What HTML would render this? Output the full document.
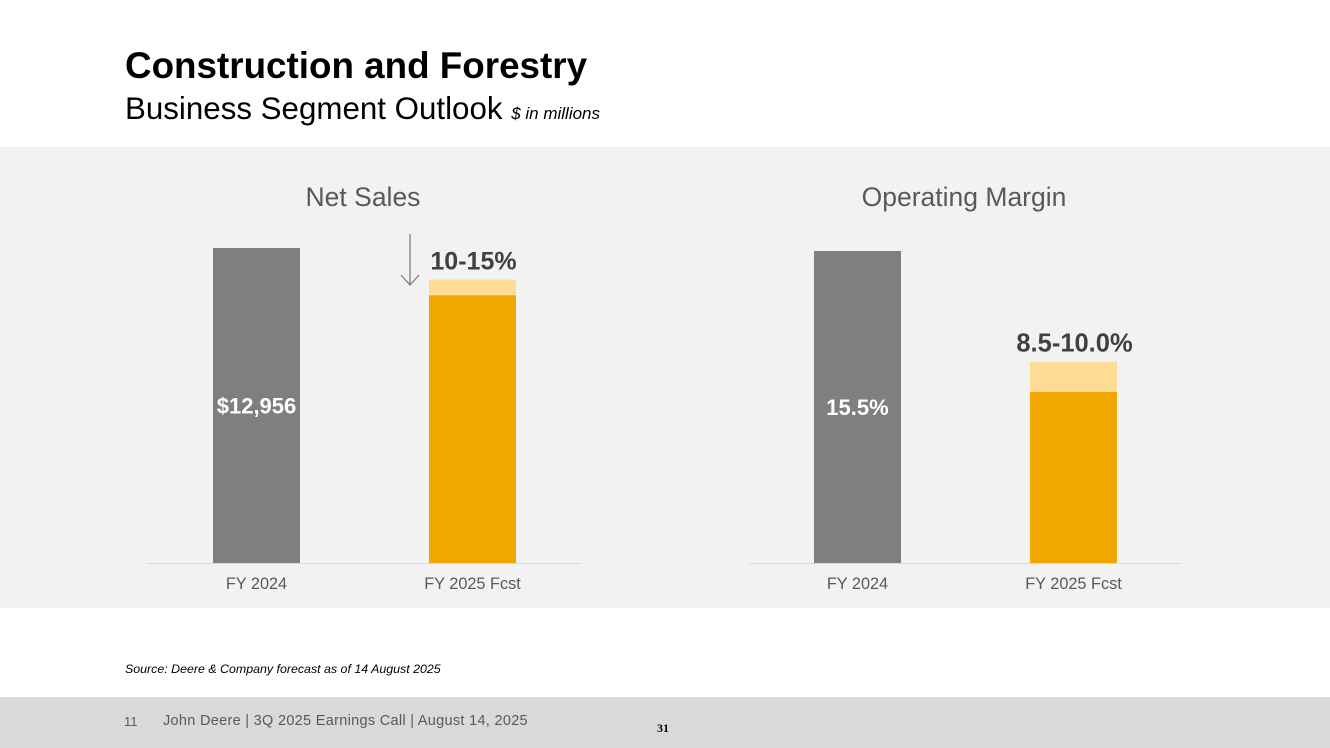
<!DOCTYPE html>
<html><head><meta charset="utf-8"><style>
body{margin:0;width:1330px;height:748px;position:relative;background:#fff;font-family:"Liberation Sans",Arial,sans-serif;overflow:hidden}
.abs{position:absolute}
</style></head><body>
<div class="abs" style="left:125px;top:45px;font-size:36.8px;font-weight:bold;color:#000">Construction and Forestry</div>
<div class="abs" style="left:125px;top:91px;font-size:31.3px;color:#000">Business Segment Outlook <span style="font-size:17px;font-style:italic">$ in millions</span></div>
<div class="abs" style="left:0;top:147px;width:1330px;height:461px;background:#f2f2f2"></div>
<svg class="abs" style="left:0;top:0" width="1330" height="748" id="svg"></svg>
<div class="abs" style="left:125px;top:662px;font-size:12.4px;font-style:italic;color:#000">Source: Deere &amp; Company forecast as of 14 August 2025</div>
<div class="abs" style="left:0;top:697px;width:1330px;height:51px;background:#d9d9d9"></div>
<div class="abs" style="left:124px;top:714px;font-size:13px;color:#595959">11</div>
<div class="abs" style="left:163px;top:713px;font-size:14.5px;color:#595959;letter-spacing:0.3px;white-space:nowrap">John Deere | 3Q 2025 Earnings Call | August 14, 2025</div>
<div class="abs" style="left:657px;top:721px;font-size:12px;font-weight:bold;font-family:'Liberation Serif',serif">31</div>
<script>
const categories=["FY 2024","FY 2025 Fcst"];
const salesBase=[12956,11013];
const salesHigh=[12956,11660];
const marginBase=[15.5,8.5];
const marginHigh=[15.5,10.0];
const salesLabels=["$12,956","10-15%"];
const marginLabels=["15.5%","8.5-10.0%"];
const NS="http://www.w3.org/2000/svg";
const svg=document.getElementById('svg');
function mk(t,a,txt){const e=document.createElementNS(NS,t);for(const k in a)e.setAttribute(k,a[k]);if(txt!=null)e.textContent=txt;svg.appendChild(e);return e;}
function chart(x0,title,base,high,labels,maxV,h,fs,name){
  const baseY=563;
  const y=v=>baseY-v/maxV*h;
  const t=mk('text',{x:x0+215,y:206,'text-anchor':'middle','font-size':26.5,fill:'#595959'},title);
  
  const ax=mk('line',{x1:x0,x2:x0+433,y1:baseY+0.5,y2:baseY+0.5,stroke:'#d9d9d9','stroke-width':1});
  
  categories.forEach((c,i)=>{
    const bx=x0+65+i*216,bw=87;
    if(i===0){
      const r=mk('rect',{x:bx,y:y(base[i]),width:bw,height:baseY-y(base[i]),fill:'#7f7f7f'});
      
      const l=mk('text',{x:bx+bw/2,y:(y(base[i])+baseY)/2+8,'text-anchor':'middle','font-size':22,'font-weight':'bold',fill:'#fff'},labels[i]);
      
    }else{
      const r2=mk('rect',{x:bx,y:y(high[i]),width:bw,height:y(base[i])-y(high[i]),fill:'#ffdc96'});
      
      const r=mk('rect',{x:bx,y:y(base[i]),width:bw,height:baseY-y(base[i]),fill:'#f0a800'});
      
      const l=mk('text',{x:bx+bw/2+1,y:y(high[i])-10,'text-anchor':'middle','font-size':fs,'font-weight':'bold',fill:'#404040'},labels[i]);
      
    }
    const cl=mk('text',{x:bx+bw/2,y:589,'text-anchor':'middle','font-size':16.3,fill:'#595959'},c);
    
  });
}
chart(148,"Net Sales",salesBase,salesHigh,salesLabels,12956,315,25,'net-sales');
chart(749,"Operating Margin",marginBase,marginHigh,marginLabels,15.5,312,25.5,'operating-margin');
const ar=mk('path',{d:'M410 234 V285 M401 275 L410 285 L419 275',stroke:'#7f7f7f','stroke-width':1.3,fill:'none'});

</script>
</body></html>
